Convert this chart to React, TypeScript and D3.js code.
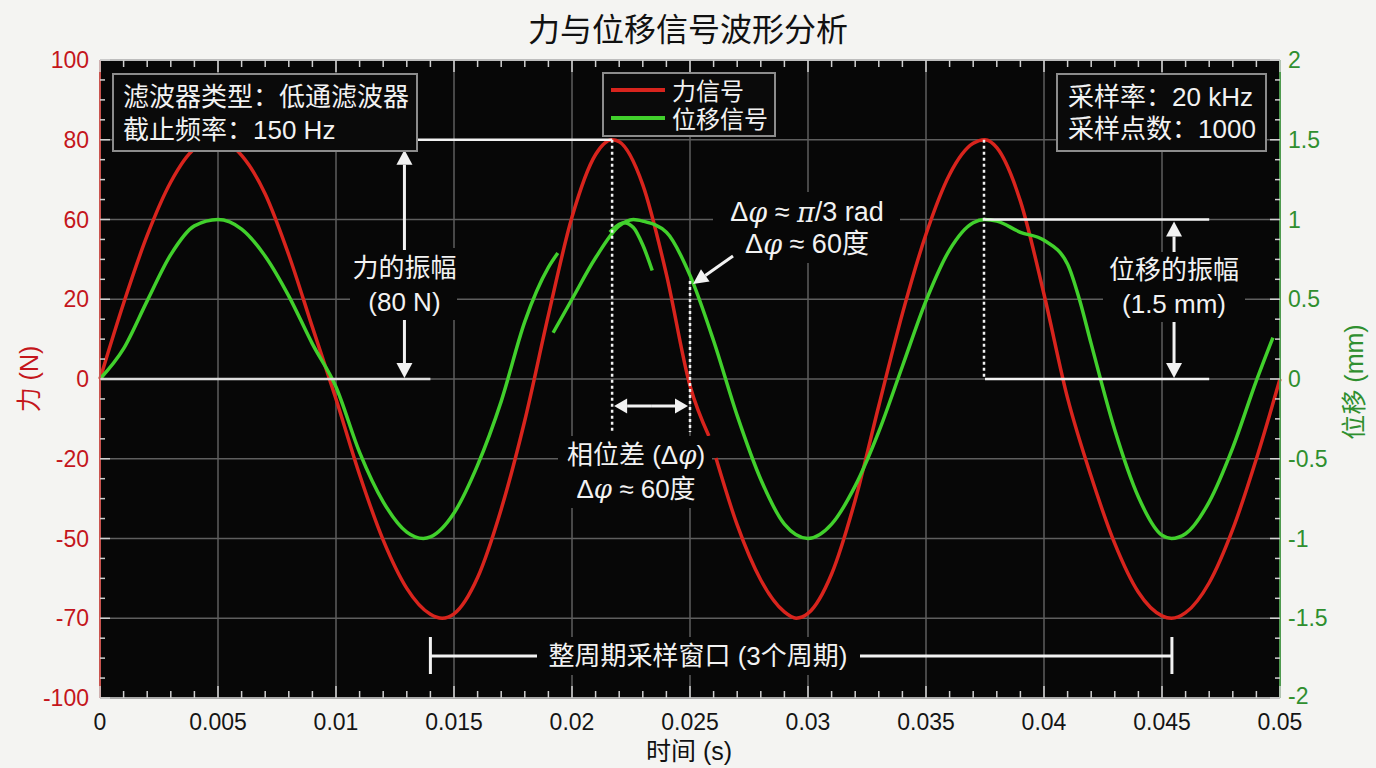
import { useEffect, useRef } from 'react'
import * as d3 from 'd3'

const W = 1376
const H = 768
const FONT = "'Liberation Sans', Arial, 'Noto Sans CJK SC', sans-serif"
const RED = '#d8241d'
const GREEN = '#41d02c'
const RED_TXT = '#c4161c'
const GREEN_TXT = '#2f8f2f'

// axes
const xTicks = [0, 0.005, 0.01, 0.015, 0.02, 0.025, 0.03, 0.035, 0.04, 0.045, 0.05]
const xTickLabels = ['0', '0.005', '0.01', '0.015', '0.02', '0.025', '0.03', '0.035', '0.04', '0.045', '0.05']
const forceTicks = [-100, -70, -50, -20, 0, 20, 60, 80, 100]
const dispTicks = [-2, -1.5, -1, -0.5, 0, 0.5, 1, 1.5, 2]
const dispTickLabels = ['-2', '-1.5', '-1', '-0.5', '0', '0.5', '1', '1.5', '2']

// 力信号 (N), null = break in the trace
const forceTime = [
  0, 0.001, 0.002, 0.003, 0.004, 0.005, 0.006, 0.007, 0.008, 0.009, 0.01, 0.011, 0.012, 0.013, 0.014, 0.0145,
  0.015, 0.016, 0.017, 0.018, 0.019, 0.02, 0.021, 0.0217, 0.022, 0.023, 0.024, 0.025, 0.0258, 0.0259, 0.0261,
  0.027, 0.028, 0.029, 0.0295, 0.03, 0.031, 0.032, 0.033, 0.034, 0.035, 0.036, 0.037, 0.0375, 0.038, 0.039,
  0.04, 0.041, 0.042, 0.043, 0.044, 0.045, 0.0454, 0.046, 0.047, 0.048, 0.049, 0.05,
]
const forceValue = [
  0, 19, 52, 69.4, 77.7, 80, 76.1, 66.4, 42.2, 13, -5, -26, -50.4, -62.5, -69, -70,
  -68.9, -59.8, -39, -10.4, 16, 60.6, 76.3, 80, 79.5, 68.7, 32.5, -1.7, -14.3, null, -19.8,
  -44.9, -60.4, -68.4, -70, -68.8, -58.9, -35.6, -6.7, 16.4, 52.6, 71.3, 79.1, 80, 78, 64.6,
  22.5, -4.8, -26.7, -51.3, -63.5, -69.4, -70, -68.6, -61.1, -46.5, -20, 0,
]

// 位移信号 (mm)
const dispTime = [
  0, 0.001, 0.002, 0.003, 0.004, 0.005, 0.006, 0.007, 0.008, 0.009, 0.01, 0.011, 0.012, 0.013, 0.0137, 0.014,
  0.015, 0.016, 0.017, 0.018, 0.019, 0.0194, 0.0194,
  0.0192, 0.02, 0.021, 0.022, 0.0226, 0.023, 0.024, 0.025, 0.026, 0.027, 0.028, 0.029, 0.03, 0.031, 0.032,
  0.033, 0.034, 0.035, 0.036, 0.037, 0.0375, 0.038, 0.039, 0.04, 0.041, 0.0415, 0.042, 0.043, 0.044, 0.045,
  0.0454, 0.046, 0.047, 0.048, 0.049, 0.0497,
]
const dispValue = [
  0, 0.19, 0.49, 0.78, 0.96, 1.0, 0.94, 0.77, 0.52, 0.22, -0.05, -0.46, -0.77, -0.96, -1.0, -0.99,
  -0.84, -0.54, -0.14, 0.36, 0.7, 0.79, null,
  0.29, 0.5, 0.76, 0.96, 1.0, 0.99, 0.92, 0.65, 0.24, -0.23, -0.63, -0.91, -1.0, -0.91, -0.67,
  -0.33, 0.08, 0.49, 0.81, 0.98, 1.0, 0.99, 0.92, 0.87, 0.72, 0.5, 0.22, -0.32, -0.74, -0.98,
  -1.0, -0.97, -0.77, -0.43, -0.01, 0.26,
]
const dispStubTime = [0.0216, 0.022, 0.0222, 0.0226, 0.023, 0.0234]
const dispStubValue = [0.92, 0.97, 0.98, 0.95, 0.84, 0.68]

type Pt = { t: number; v: number | null }
const zip = (ts: number[], vs: (number | null)[]): Pt[] => ts.map((t, i) => ({ t, v: vs[i] }))

export default function App() {
  const ref = useRef<SVGSVGElement>(null)

  useEffect(() => {
    const svg = d3.select(ref.current)
    svg.selectAll('*').remove()

    const x = d3.scaleLinear().domain([0, 0.05]).range([100, 1280])
    const yD = d3.scaleLinear().domain([-2, 2]).range([698, 60])
    // the force axis labels are not evenly spaced in value: piecewise scale
    const yF = d3.scaleLinear().domain(forceTicks).range(dispTicks.map((d) => yD(d)))
    const [x0, x1] = x.range()
    const [yb, yt] = yD.range()

    svg.append('rect').attr('width', W).attr('height', H).attr('fill', '#f4f4f2')
    svg.append('rect').attr('x', x0).attr('y', yt).attr('width', x1 - x0).attr('height', yb - yt).attr('fill', '#070707')

    // grid
    const grid = svg.append('g').attr('stroke', '#5e5e5e').attr('stroke-width', 1.5)
    xTicks.slice(1, -1).forEach((t) => {
      grid.append('line').attr('x1', x(t)).attr('x2', x(t)).attr('y1', yt).attr('y2', yb)
    })
    dispTicks.slice(1, -1).forEach((d) => {
      grid.append('line').attr('x1', x0).attr('x2', x1).attr('y1', yD(d)).attr('y2', yD(d))
    })

    // curves
    const lineF = d3
      .line<Pt>()
      .defined((d) => d.v != null)
      .x((d) => x(d.t))
      .y((d) => yF(d.v as number))
      .curve(d3.curveMonotoneX)
    const lineD = d3
      .line<Pt>()
      .defined((d) => d.v != null)
      .x((d) => x(d.t))
      .y((d) => yD(d.v as number))
      .curve(d3.curveMonotoneX)

    svg.append('path').attr('d', lineF(zip(forceTime, forceValue))).attr('fill', 'none').attr('stroke', RED).attr('stroke-width', 3.5)
    svg.append('path').attr('d', lineD(zip(dispTime, dispValue))).attr('fill', 'none').attr('stroke', GREEN).attr('stroke-width', 3.5)
    svg.append('path').attr('d', lineD(zip(dispStubTime, dispStubValue))).attr('fill', 'none').attr('stroke', GREEN).attr('stroke-width', 3.5)

    const ann = svg.append('g')
    const hline = (xa: number, xb: number, y: number, w = 2.5, c = '#f2f2f2') =>
      ann.append('line').attr('x1', xa).attr('x2', xb).attr('y1', y).attr('y2', y).attr('stroke', c).attr('stroke-width', w)
    const dotted = (xp: number, ya: number, yb2: number) =>
      ann.append('line').attr('x1', xp).attr('x2', xp).attr('y1', ya).attr('y2', yb2)
        .attr('stroke', '#f2f2f2').attr('stroke-width', 2.5).attr('stroke-dasharray', '3,3')
    const arrow = (xa: number, ya: number, xb: number, yb2: number, size = 15, width = 16) => {
      const a = Math.atan2(yb2 - ya, xb - xa)
      const bx = xb - size * Math.cos(a)
      const by = yb2 - size * Math.sin(a)
      ann.append('line').attr('x1', xa).attr('y1', ya).attr('x2', bx).attr('y2', by).attr('stroke', '#f2f2f2').attr('stroke-width', 3)
      const px = (-Math.sin(a) * width) / 2
      const py = (Math.cos(a) * width) / 2
      ann.append('polygon').attr('points', `${xb},${yb2} ${bx + px},${by + py} ${bx - px},${by - py}`).attr('fill', '#f2f2f2')
    }
    const bg = (xa: number, ya: number, w: number, h: number) =>
      ann.append('rect').attr('x', xa).attr('y', ya).attr('width', w).attr('height', h).attr('fill', '#070707')
    const label = (xc: number, yc: number, s: string, size = 26) =>
      ann.append('text').attr('x', xc).attr('y', yc).attr('text-anchor', 'middle').attr('dominant-baseline', 'central')
        .attr('font-family', FONT).attr('font-size', size).attr('fill', '#f2f2f2').text(s)
    const greek = (xc: number, yc: number, parts: [string, boolean][], size = 26) => {
      const t = ann.append('text').attr('x', xc).attr('y', yc).attr('text-anchor', 'middle').attr('dominant-baseline', 'central')
        .attr('font-family', FONT).attr('font-size', size).attr('fill', '#f2f2f2')
      parts.forEach(([s, it]) => {
        const sp = t.append('tspan').text(s)
        if (it) sp.attr('font-style', 'italic').attr('font-family', "'DejaVu Serif', serif")
      })
    }

    // force amplitude
    const peakT = 0.0217
    const fAmpX = x(0.0129)
    hline(x(0.013), x(peakT), yF(80))
    hline(x0, x(0.014), yF(0), 2.5, '#dddddd')
    bg(350, 248, 107, 72)
    arrow(fAmpX, 250, fAmpX, yF(80) + 10)
    arrow(fAmpX, 320, fAmpX, yF(0) - 1)
    label(fAmpX, 268, '力的振幅')
    label(fAmpX, 302, '(80 N)')

    // phase difference
    const lagT = 0.025
    dotted(x(peakT), yF(80), 432)
    dotted(x(lagT), 281, 432)
    const midX = (x(peakT) + x(lagT)) / 2
    arrow(midX, 406, x(peakT) + 2, 406, 13, 15)
    arrow(midX, 406, x(lagT) - 2, 406, 13, 15)
    bg(558, 436, 154, 72)
    greek(636, 455, [['相位差 (Δ', false], ['φ', true], [')', false]])
    greek(636, 489, [['Δ', false], ['φ', true], [' ≈ 60度', false]])

    bg(713, 192, 187, 71)
    greek(807, 212, [['Δ', false], ['φ', true], [' ≈ ', false], ['π', true], ['/3 rad', false]], 27)
    greek(807, 244, [['Δ', false], ['φ', true], [' ≈ 60度', false]], 27)
    arrow(733, 256, x(lagT) + 3, 284, 15, 15)

    // displacement amplitude
    const dPeakT = 0.0375
    hline(x(dPeakT), x(0.047), yD(1))
    hline(x(dPeakT), x(0.047), yD(0))
    dotted(x(dPeakT) - 1, yF(80), yD(0))
    const dAmpX = x(0.04551)
    bg(1103, 252, 142, 70)
    arrow(dAmpX, 252, dAmpX, yD(1) + 2)
    arrow(dAmpX, 322, dAmpX, yD(0) - 1)
    label(dAmpX, 270, '位移的振幅')
    label(dAmpX, 304, '(1.5 mm)')

    // sampling window
    const wy = 656
    const wa = x(0.014)
    const wb = x(0.04542)
    hline(wa, 537, wy, 3)
    hline(860, wb, wy, 3)
    ann.append('line').attr('x1', wa).attr('x2', wa).attr('y1', 637).attr('y2', 674).attr('stroke', '#f2f2f2').attr('stroke-width', 3)
    ann.append('line').attr('x1', wb).attr('x2', wb).attr('y1', 637).attr('y2', 674).attr('stroke', '#f2f2f2').attr('stroke-width', 3)
    bg(540, 637, 318, 38)
    label(698, wy, '整周期采样窗口 (3个周期)')

    // info boxes
    const box = (xa: number, ya: number, w: number, h: number) =>
      svg.append('rect').attr('x', xa).attr('y', ya).attr('width', w).attr('height', h)
        .attr('fill', '#0a0a0a').attr('stroke', '#8c8c8c').attr('stroke-width', 2)
    const boxText = (xa: number, ya: number, s: string, size = 26) =>
      svg.append('text').attr('x', xa).attr('y', ya).attr('dominant-baseline', 'central')
        .attr('font-family', FONT).attr('font-size', size).attr('fill', '#f2f2f2').text(s)

    box(113, 74, 304, 77)
    boxText(123, 97, '滤波器类型：低通滤波器')
    boxText(123, 130, '截止频率：150 Hz')

    box(1057, 74, 209, 77)
    boxText(1068, 97, '采样率：20 kHz')
    boxText(1068, 129, '采样点数：1000')

    // legend
    box(603, 73, 172, 63)
    svg.append('line').attr('x1', 611).attr('x2', 665).attr('y1', 90).attr('y2', 90).attr('stroke', RED).attr('stroke-width', 4)
    svg.append('line').attr('x1', 611).attr('x2', 665).attr('y1', 118).attr('y2', 118).attr('stroke', GREEN).attr('stroke-width', 4)
    boxText(672, 91, '力信号', 24)
    boxText(672, 119, '位移信号', 24)

    // frame
    svg.append('line').attr('x1', x0).attr('x2', x1).attr('y1', yt).attr('y2', yt).attr('stroke', '#bdbdbd').attr('stroke-width', 2)
    svg.append('line').attr('x1', x0).attr('x2', x1).attr('y1', yb).attr('y2', yb).attr('stroke', '#a8a8a8').attr('stroke-width', 2)
    svg.append('line').attr('x1', x0).attr('x2', x0).attr('y1', yt).attr('y2', yb).attr('stroke', '#c9544f').attr('stroke-width', 2)
    svg.append('line').attr('x1', x1).attr('x2', x1).attr('y1', yt).attr('y2', yb).attr('stroke', '#4f9a4f').attr('stroke-width', 2)

    // ticks
    const ticks = svg.append('g').attr('stroke', '#d0d0d0').attr('stroke-width', 1.5)
    d3.range(0, 51).forEach((i) => {
      const xp = x(i * 0.001)
      const len = i % 5 === 0 ? 12 : 7
      ticks.append('line').attr('x1', xp).attr('x2', xp).attr('y1', yt).attr('y2', yt + len)
      ticks.append('line').attr('x1', xp).attr('x2', xp).attr('y1', yb).attr('y2', yb - len)
    })
    d3.range(0, 33).forEach((i) => {
      const yp = yD(-2 + i * 0.125)
      const len = i % 4 === 0 ? 10 : 5
      ticks.append('line').attr('x1', x0).attr('x2', x0 + len).attr('y1', yp).attr('y2', yp)
      ticks.append('line').attr('x1', x1).attr('x2', x1 - len).attr('y1', yp).attr('y2', yp)
    })

    // tick labels
    const tl = svg.append('g').attr('font-family', FONT).attr('font-size', 23)
    xTicks.forEach((t, i) => {
      tl.append('text').attr('x', x(t)).attr('y', 722).attr('text-anchor', 'middle').attr('dominant-baseline', 'central')
        .attr('fill', '#151515').text(xTickLabels[i])
    })
    forceTicks.forEach((f) => {
      tl.append('text').attr('x', 89).attr('y', yF(f)).attr('text-anchor', 'end').attr('dominant-baseline', 'central')
        .attr('fill', RED_TXT).text(String(f))
    })
    dispTicks.forEach((d, i) => {
      tl.append('text').attr('x', 1288).attr('y', yD(d) - (i === 0 ? 2 : 0)).attr('dominant-baseline', 'central')
        .attr('fill', GREEN_TXT).text(dispTickLabels[i])
    })

    // titles
    svg.append('text').attr('x', 688).attr('y', 30).attr('text-anchor', 'middle').attr('dominant-baseline', 'central')
      .attr('font-family', FONT).attr('font-size', 32).attr('fill', '#111').text('力与位移信号波形分析')
    svg.append('text').attr('x', 689).attr('y', 751).attr('text-anchor', 'middle').attr('dominant-baseline', 'central')
      .attr('font-family', FONT).attr('font-size', 25).attr('fill', '#111').text('时间 (s)')
    svg.append('text').attr('transform', 'translate(29,379) rotate(-90)').attr('text-anchor', 'middle').attr('dominant-baseline', 'central')
      .attr('font-family', FONT).attr('font-size', 25).attr('fill', RED_TXT).text('力 (N)')
    svg.append('text').attr('transform', 'translate(1354,382) rotate(-90)').attr('text-anchor', 'middle').attr('dominant-baseline', 'central')
      .attr('font-family', FONT).attr('font-size', 25).attr('fill', GREEN_TXT).text('位移 (mm)')
  }, [])

  return <svg ref={ref} width={W} height={H} style={{ position: 'absolute', left: 0, top: 0, display: 'block' }} />
}
